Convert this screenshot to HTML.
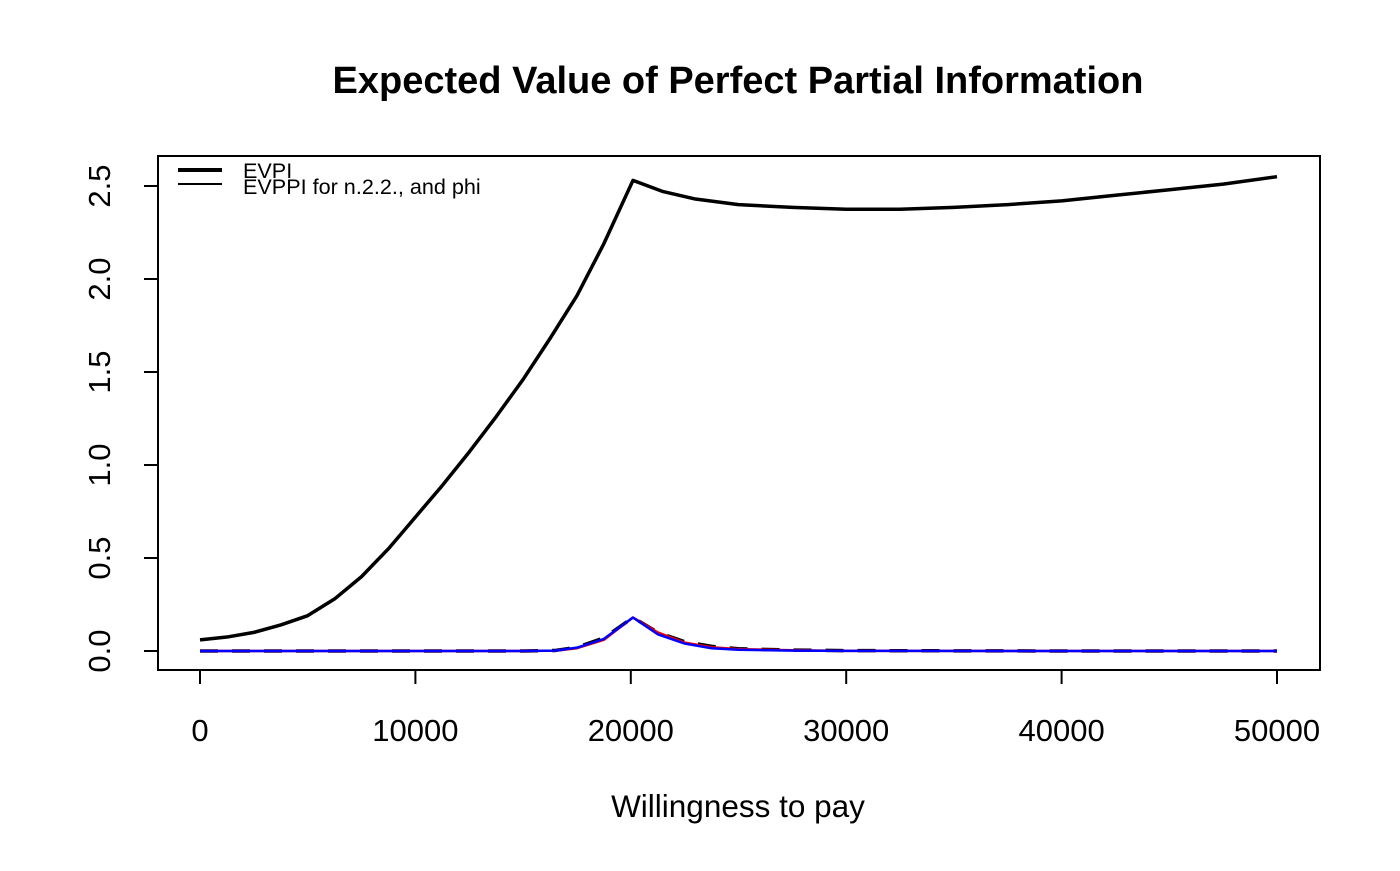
<!DOCTYPE html>
<html><head><meta charset="utf-8"><style>
body{margin:0;background:#fff}
svg{font-family:"Liberation Sans",Arial,sans-serif}
</style></head><body>
<svg id="chart" width="1400" height="866">
<text x="738" y="93" text-anchor="middle" font-size="38" font-weight="bold">Expected Value of Perfect Partial Information</text>
<text x="738" y="817" text-anchor="middle" font-size="31.5">Willingness to pay</text>
<rect x="158" y="156" width="1162" height="514" fill="none" stroke="#000" stroke-width="2"/>
<g id="xaxis"></g>
<g id="yaxis"></g>
<g id="series"></g>
<g>
<line x1="178" y1="170" x2="222" y2="170" stroke="#000" stroke-width="4"/>
<line x1="178" y1="184" x2="222" y2="184" stroke="#000" stroke-width="2"/>
<text x="243" y="178" font-size="21.6">EVPI</text>
<text x="243" y="194" font-size="21.6">EVPPI for n.2.2., and phi</text>
</g>
</svg>
<script>
const wtp = [0,1250,2500,3750,5000,6250,7500,8750,10000,11250,12500,13750,15000,16250,17500,18750,20100,21500,23000,25000,27500,30000,32500,35000,37500,40000,42500,45000,47500,50000];
const evpi = [0.06,0.075,0.10,0.14,0.19,0.28,0.40,0.55,0.72,0.89,1.07,1.26,1.46,1.68,1.91,2.19,2.53,2.47,2.43,2.40,2.385,2.375,2.375,2.385,2.40,2.42,2.45,2.48,2.51,2.55];
const evppiWtp = [0,5000,10000,15000,16500,17500,18750,20100,21250,22500,23750,25000,27500,30000,40000,50000];
const evppiBlack = [0,0,0,0,0.003,0.02,0.07,0.18,0.10,0.05,0.025,0.012,0.005,0.002,0,0];
const evppiRed = [0,0,0,0,0.002,0.015,0.06,0.18,0.10,0.045,0.02,0.01,0.004,0.001,0,0];
const evppiBlue = [0,0,0,0,0.002,0.018,0.065,0.18,0.09,0.04,0.015,0.007,0.002,0.001,0,0];
const xTicks = [0,10000,20000,30000,40000,50000];
const yTicks = [0,0.5,1,1.5,2,2.5];
const yTickLabels = ["0.0","0.5","1.0","1.5","2.0","2.5"];
const NS="http://www.w3.org/2000/svg";
const sx = v => 200 + v*(1277-200)/50000;
const sy = v => 651 - v*186;
const xa=document.getElementById('xaxis'), ya=document.getElementById('yaxis'), sg=document.getElementById('series');
function mk(tag,attrs,parent){const e=document.createElementNS(NS,tag);for(const k in attrs)e.setAttribute(k,attrs[k]);parent.appendChild(e);return e;}
let l=mk('line',{x1:sx(0),x2:sx(50000),y1:670,y2:670,stroke:'#000','stroke-width':2},xa);


xTicks.forEach(t=>{
 const tk=mk('line',{x1:sx(t),x2:sx(t),y1:670,y2:684,stroke:'#000','stroke-width':2},xa);
 
 
 const tx=mk('text',{x:sx(t),y:741,'text-anchor':'middle','font-size':31},xa);tx.textContent=t;
 
 
});
l=mk('line',{x1:158,x2:158,y1:sy(0),y2:sy(2.5),stroke:'#000','stroke-width':2},ya);


yTicks.forEach((t,i)=>{
 const tk=mk('line',{x1:144,x2:158,y1:sy(t),y2:sy(t),stroke:'#000','stroke-width':2},ya);
 
 
 const tx=mk('text',{x:110,y:sy(t),'text-anchor':'middle','font-size':31,transform:`rotate(-90 110 ${sy(t)})`},ya);tx.textContent=yTickLabels[i];
 
 
});
function line(xs,ys,color,w,dash,name){
 const p=mk('polyline',{points:xs.map((x,i)=>sx(x)+','+sy(ys[i])).join(' '),fill:'none',stroke:color,'stroke-width':w,'stroke-linejoin':'round'},sg);
 if(dash)p.setAttribute('stroke-dasharray',dash);
 
 
}
line(wtp,evpi,'#000',3.5,null,'evpi-line');
line(evppiWtp,evppiBlack,'#000',3.5,'18 14','evppi-black-dashed');
line(evppiWtp,evppiRed,'#e00',2.5,null,'evppi-red-line');
line(evppiWtp,evppiBlue,'#00f',2.5,null,'evppi-blue-line');
</script>
</body></html>
